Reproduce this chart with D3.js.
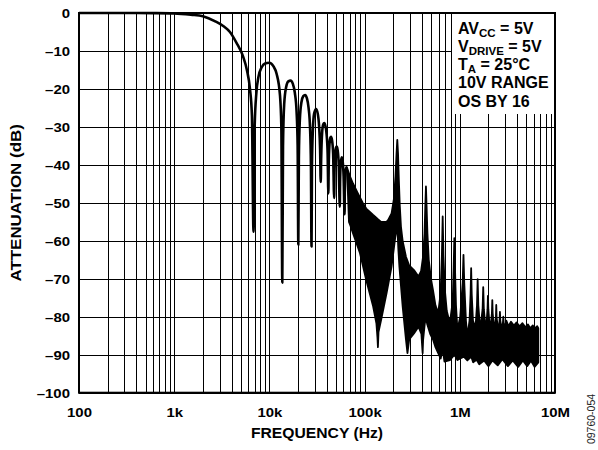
<!DOCTYPE html>
<html><head><meta charset="utf-8">
<script src="https://cdn.jsdelivr.net/npm/d3@7"></script>
<style>body{margin:0;background:#fff}svg{display:block}</style>
</head><body><svg id="c" width="598" height="450"></svg>
<script>
// ---------- data ----------
const xTickValues = [100, 1e3, 1e4, 1e5, 1e6, 1e7];
const xTickLabels = ["100", "1k", "10k", "100k", "1M", "10M"];
const yTickValues = [0, -10, -20, -30, -40, -50, -60, -70, -80, -90, -100];
const yTickLabels = ["0", "–10", "–20", "–30", "–40", "–50", "–60", "–70", "–80", "–90", "–100"];

// distinct lobes of the response: [frequency Hz, attenuation dB]
const lobeCurve = [
  [100,0],[300,0],[600,-0.03],[1000,-0.1],[1500,-0.45],[2000,-0.85],[2700,-2.2],[3300,-3.5],[3850,-5],[4500,-7.8],[5300,-11.5],[5800,-15],[6250,-20],[6550,-27],[6810,-57.6],
  [7000,-30],[7300,-21],[7650,-17],[8300,-14.3],[9000,-13.3],[9970,-13.1],[11000,-14],[11900,-16],[12900,-21.5],[13350,-30],[13660,-71],
  [13900,-35],[14300,-24],[15000,-19.5],[15800,-18],[16700,-17.8],[17600,-18.6],[18500,-21],[19300,-26],[19800,-35],[20120,-61],
  [20400,-38],[20900,-28],[21700,-23.5],[22700,-21.9],[23700,-21.6],[24800,-22.5],[25800,-25],[26700,-30],[27300,-40],[27700,-61.5],
  [28000,-40],[28600,-31],[29500,-26.5],[30900,-25.3],[32200,-26.5],[33300,-30],[34100,-36],[34600,-44.5],
  [35000,-38],[35800,-31.5],[36800,-29.3],[37700,-29],[38800,-29.8],[39900,-32],[40900,-37],[41600,-47.5],
  [42000,-40],[42800,-34.5],[43600,-32.9],[44400,-32.6],[45500,-33.5],[46700,-37],[47900,-48.7],
  [48300,-42],[49200,-37],[50000,-35.5],[50900,-35.2],[52000,-36],[53500,-40],[54900,-51],
  [55300,-44],[56200,-39.5],[57500,-38],[58800,-39],[60200,-43],[61600,-53],
  [62000,-46],[63200,-41.5],[64900,-40.5]
];

// dense (filled) part of the response: upper and lower envelopes
const bandUpper = [
  [64900,-40.5],[70200,-43],[75500,-44.9],[85000,-47.5],[96000,-50.1],[104000,-51.5],[123000,-53.2],[138000,-54.3],[149000,-55],[170000,-55],[177000,-54.5],[192000,-52.8],[203000,-49],[211000,-43],[216500,-37],[220500,-33.4],[224500,-37],[229000,-44],[234000,-50.5],[241000,-56.3],[251000,-60],[272000,-64.2],[294000,-66.5],[330000,-67.7],[368000,-69.4],[392000,-68],[412000,-64],[426000,-58],[434000,-51],[441000,-45.7],[448000,-51],[457000,-58],[472000,-65],[498000,-70],[523000,-73],[555000,-77],[593000,-79],[628000,-74],[648000,-64],[661000,-53.6],[674000,-64],[697000,-73],[730000,-78.5],[786000,-81.7],[842000,-76],[862000,-67],[876000,-59.3],[890000,-67],[912000,-77],[945000,-83.5],[1010000,-80],[1072000,-71],[1093000,-63.7],[1114000,-71],[1160000,-81],[1200000,-85.2],[1265000,-81],[1298000,-74],[1316000,-67.2],[1334000,-74],[1375000,-81],[1460000,-83],[1515000,-77],[1540000,-70.1],[1565000,-77],[1640000,-83.5],[1735000,-78],[1762000,-72.2],[1789000,-78],[1880000,-84],[1955000,-78],[1975000,-74.5],[1995000,-78],[2080000,-84],[2175000,-79],[2195000,-75.6],[2215000,-79],[2310000,-84],[2395000,-80],[2415000,-76.9],[2435000,-80],[2530000,-84],[2615000,-81],[2640000,-78.7],[2665000,-81],[2760000,-83.5],[2840000,-81.5],[2865000,-80],[2890000,-81.5],[2990000,-83],[3080000,-81],[3250000,-82.5],[3450000,-81.3],[3700000,-82.3],[3950000,-81.5],[4250000,-82.5],[4550000,-81.7],[4900000,-82.8],[5200000,-82],[5500000,-83],[5850000,-82.3],[6200000,-83],[6500000,-82.5],[6680000,-83]
];
const bandLower = [
  [64900,-40.5],[66700,-47],[68500,-55],[71000,-56],[75500,-58],[89300,-63.2],[104000,-70.3],[123000,-77.3],[133000,-81.7],[136500,-85.5],[138000,-88],[140000,-84],[149000,-80.9],[170000,-73.8],[192000,-66.8],[210000,-59],[220500,-56],[226000,-62],[232000,-66.8],[251000,-77.3],[272000,-86],[282000,-89.6],[294000,-86],[330000,-84.4],[368000,-82.6],[395000,-84.5],[403000,-88],[407000,-89.6],[412000,-86],[428000,-82],[441000,-80],[455000,-82],[488000,-84.5],[523000,-86],[555000,-88],[593000,-89.6],[630000,-91],[661000,-88.5],[690000,-91.8],[786000,-91.4],[880000,-90],[945000,-91.4],[1100000,-90.5],[1200000,-91.5],[1320000,-90.5],[1380000,-92],[1500000,-91.3],[1600000,-92.5],[1800000,-91.5],[2000000,-93],[2200000,-91.5],[2500000,-92.8],[2800000,-91.2],[3200000,-93],[3600000,-91.5],[4100000,-93.2],[4600000,-91.5],[5100000,-93],[5600000,-91.6],[6100000,-93.2],[6680000,-92]
];

const legendLines = [
  [["AV",""],["CC","sub"],[" = 5V",""]],
  [["V",""],["DRIVE","sub"],[" = 5V",""]],
  [["T",""],["A","sub"],[" = 25°C",""]],
  [["10V RANGE",""]],
  [["OS BY 16",""]]
];
const xTitle = "FREQUENCY (Hz)";
const yTitle = "ATTENUATION (dB)";
const figureId = "09760-054";

// ---------- layout ----------
const L = 79, R = 555, T = 13, B = 392.7;
const FONT = "'Liberation Sans', Arial, Helvetica, sans-serif";
const svg = d3.select("#c");
const x = d3.scaleLog().domain([100, 1e7]).range([L, R]);
const y = d3.scaleLinear().domain([0, -100]).range([T, B]);

// grid
const grid = svg.append("g").attr("shape-rendering", "crispEdges");
grid.append("g").attr("transform", `translate(0,${B})`)
  .call(d3.axisBottom(x).tickValues(x.ticks()).tickSize(-(B - T)).tickFormat(""))
  .call(g => g.select(".domain").remove())
  .call(g => g.selectAll("line").attr("stroke", "#000").attr("stroke-width", 1));
grid.append("g").attr("transform", `translate(${L},0)`)
  .call(d3.axisLeft(y).tickValues(yTickValues).tickSize(-(R - L)).tickFormat(""))
  .call(g => g.select(".domain").remove())
  .call(g => g.selectAll("line").attr("stroke", "#000").attr("stroke-width", 1));

// legend box (covers grid)
svg.append("rect").attr("x", 452).attr("y", T).attr("width", R - 452).attr("height", 101).attr("fill", "#fff");

// dense band
const lineGen = d3.line().x(d => x(d[0])).y(d => y(d[1]));
const poly = bandUpper.concat(bandLower.slice().reverse());
svg.append("path").attr("d", lineGen(poly) + "Z")
  .attr("fill", "#000").attr("stroke", "#000").attr("stroke-width", 1.8).attr("stroke-linejoin", "round");

// lobes
svg.append("path").attr("d", lineGen.curve(d3.curveMonotoneX)(lobeCurve))
  .attr("fill", "none").attr("stroke", "#000").attr("stroke-width", 2.6).attr("stroke-linejoin", "round");

// border
svg.append("rect").attr("x", L).attr("y", T).attr("width", R - L).attr("height", B - T)
  .attr("fill", "none").attr("stroke", "#000").attr("stroke-width", 2);

// x tick labels
const xl = svg.append("g").attr("transform", `translate(0,${B})`)
  .call(d3.axisBottom(x).tickValues(xTickValues).tickSize(0).tickFormat((d, i) => xTickLabels[i]));
xl.select(".domain").remove();
xl.selectAll("text").attr("y", 0).attr("dy", 0)
  .attr("transform", "translate(0,24.5) scale(1.15,1)")
  .attr("font-family", FONT).attr("font-weight", "bold").attr("font-size", 13).attr("fill", "#000");

// y tick labels
const yl = svg.append("g").attr("transform", `translate(${L},0)`)
  .call(d3.axisLeft(y).tickValues(yTickValues).tickSize(0).tickFormat((d, i) => yTickLabels[i]));
yl.select(".domain").remove();
yl.selectAll("text").attr("x", 0).attr("dy", "0.36em")
  .attr("transform", "translate(-9,0) scale(1.15,1)")
  .attr("font-family", FONT).attr("font-weight", "bold").attr("font-size", 13).attr("fill", "#000");

// axis titles
svg.append("text").attr("transform", `translate(${(L + R) / 2},438) scale(1.12,1)`)
  .attr("text-anchor", "middle").attr("font-family", FONT).attr("font-weight", "bold").attr("font-size", 14).text(xTitle);
svg.append("text").attr("transform", `translate(21,${(T + B) / 2}) rotate(-90) scale(1.13,1)`)
  .attr("text-anchor", "middle").attr("font-family", FONT).attr("font-weight", "bold").attr("font-size", 15).text(yTitle);

// figure id
svg.append("text").attr("transform", "translate(595,419) rotate(-90)")
  .attr("text-anchor", "middle").attr("font-family", FONT).attr("font-size", 10.5).attr("fill", "#222").text(figureId);

// legend
const lg = svg.append("g").attr("font-family", FONT).attr("font-weight", "bold").attr("fill", "#000");
legendLines.forEach((parts, i) => {
  const t = lg.append("text").attr("x", 458).attr("y", 33.5 + i * 18.3).attr("font-size", 16);
  let shifted = false;
  parts.forEach(([s, kind]) => {
    const ts = t.append("tspan").text(s);
    if (kind === "sub") { ts.attr("font-size", 11.5).attr("dy", 3); shifted = true; }
    else { ts.attr("font-size", 16); if (shifted) { ts.attr("dy", -3); shifted = false; } }
  });
});
</script></body></html>
